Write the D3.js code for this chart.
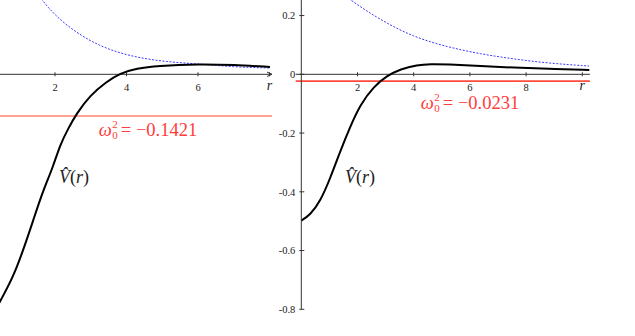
<!DOCTYPE html>
<html><head><meta charset="utf-8">
<script src="https://cdn.jsdelivr.net/npm/d3@7/dist/d3.min.js"></script>
<style>html,body{margin:0;padding:0;background:#fff;overflow:hidden}svg{display:block}
svg text{font-family:"Liberation Serif","DejaVu Serif",serif}</style>
</head><body>
<script>
// ---- data ----
const leftR      = [0.20, 0.462, 0.834, 1.113, 1.393, 1.673, 1.944, 2.140, 2.372, 2.607, 2.979, 3.446, 3.818, 4.285, 4.845, 6.056, 6.979, 8.014];
const leftV      = [-0.83, -0.774, -0.689, -0.598, -0.496, -0.394, -0.316, -0.240, -0.184, -0.133, -0.072, -0.025, 0.0034, 0.020, 0.029, 0.035, 0.032, 0.025];
const leftBlueR  = [1.30, 1.58, 2.336, 3.258, 4.18, 5.13, 6.06, 6.98, 8.01];
const leftBlueV  = [0.33, 0.253, 0.161, 0.093, 0.059, 0.042, 0.035, 0.025, 0.0214];
const rightR     = [0, 0.31, 0.67, 1.03, 1.38, 1.74, 2.1, 2.57, 3.05, 3.53, 4.12, 4.6, 5.19, 6.38, 7.57, 8.76, 10.25];
const rightV     = [-0.498, -0.479, -0.434, -0.354, -0.263, -0.178, -0.103, -0.042, -0.005, 0.018, 0.032, 0.035, 0.034, 0.028, 0.0225, 0.019, 0.0146];
const rightBlueR = [1.40, 1.74, 2.81, 3.99, 5.2, 6.38, 7.56, 8.77, 10.24];
const rightBlueV = [0.28, 0.253, 0.185, 0.127, 0.093, 0.069, 0.052, 0.038, 0.028];
const omegaLeft  = -0.1421;
const omegaRight = -0.0231;
const leftXTicks  = [2, 4, 6, 8];
const leftXLabels = ["2", "4", "6", "r"];
const rightXTicks  = [2, 4, 6, 8, 10];
const rightXLabels = ["2", "4", "6", "8", "r"];
const yTicks  = [0.2, 0, -0.2, -0.4, -0.6, -0.8];
const yLabels = ["0.2", "0", "-0.2", "-0.4", "-0.6", "-0.8"];

// ---- drawing ----
const W = 635, H = 336;
const svg = d3.select("body").append("svg").attr("width", W).attr("height", H);

const y = d3.scaleLinear().domain([0, -0.8]).range([74.3, 309.3]);
const xL = d3.scaleLinear().domain([0, 8]).range([-16.5, 269.5]);
const xR = d3.scaleLinear().domain([0, 10]).range([301.3, 582.3]);

function omegaLabel(g, cx, by, omega) {
  const col = "#ff3b3b";
  const grp = g.append("g");
  const w = grp.append("text").attr("x", 0).attr("y", by).attr("font-size", 18.5)
    .attr("font-style", "italic").attr("fill", col).text("ω");
  const ww = w.node().getComputedTextLength();
  grp.append("text").attr("x", ww + 0.5).attr("y", by - 8.5).attr("font-size", 11)
    .attr("fill", col).text("2");
  grp.append("text").attr("x", ww + 0.5).attr("y", by + 3).attr("font-size", 11)
    .attr("fill", col).text("0");
  const rest = grp.append("text").attr("x", ww + 9).attr("y", by).attr("font-size", 18.5)
    .attr("fill", col).text("= \u2212" + Math.abs(omega).toFixed(4));
  const total = ww + 9 + rest.node().getComputedTextLength();
  grp.attr("transform", `translate(${cx - total / 2},0)`);
}

function panel(x, rArr, vArr, bR, bV, omega, ticks, labels, axisEnd, arrow, redColor, omegaX, omegaY, vLabelX, lineMin) {
  const g = svg.append("g");
  g.append("line").attr("x1", x(lineMin)).attr("x2", x(axisEnd))
    .attr("y1", y(0)).attr("y2", y(0)).attr("stroke", "#333").attr("stroke-width", 1);
  if (arrow) {
    const ax = x(axisEnd), ay = y(0);
    g.append("path").attr("d", `M${ax-5},${ay-2.2}L${ax},${ay}L${ax-5},${ay+2.2}`)
      .attr("fill", "none").attr("stroke", "#333").attr("stroke-width", 1);
  }
  ticks.forEach((t, i) => {
    g.append("line").attr("x1", x(t)).attr("x2", x(t)).attr("y1", y(0) - 2).attr("y2", y(0) + 2)
      .attr("stroke", "#333").attr("stroke-width", 1);
    const isR = labels[i] === "r";
    g.append("text").attr("x", x(t)).attr("y", y(0) + (isR ? 16 : 16.8))
      .attr("text-anchor", "middle")
      .attr("font-size", isR ? 14 : 10.5).attr("font-style", isR ? "italic" : "normal")
      .attr("fill", "#222").text(labels[i]);
  });
  g.append("line").attr("x1", x(lineMin)).attr("x2", x(axisEnd))
    .attr("y1", y(omega)).attr("y2", y(omega)).attr("stroke", redColor).attr("stroke-width", 1.6);
  const line = d3.line().x(d => x(d[0])).y(d => y(d[1])).curve(d3.curveBasis);
  g.append("path").datum(d3.zip(bR, bV)).attr("d", line)
    .attr("fill", "none").attr("stroke", "#3a3aff").attr("stroke-width", 1)
    .attr("stroke-dasharray", "2,1.5");
  g.append("path").datum(d3.zip(rArr, vArr)).attr("d", line)
    .attr("fill", "none").attr("stroke", "#000").attr("stroke-width", 2);
  omegaLabel(g, omegaX, omegaY, omega);
  const v = g.append("text").attr("x", vLabelX).attr("y", 183)
    .attr("font-size", 18).attr("fill", "#222");
  v.append("tspan").attr("font-style", "italic").text("V\u0302");
  v.append("tspan").text("(");
  v.append("tspan").attr("font-style", "italic").text("r");
  v.append("tspan").text(")");
  return g;
}

panel(xL, leftR, leftV, leftBlueR, leftBlueV, omegaLeft, leftXTicks, leftXLabels, 8.07, true,
      "#ff8070", 148, 136, 59, xL.invert(0));
panel(xR, rightR, rightV, rightBlueR, rightBlueV, omegaRight, rightXTicks, rightXLabels, 10.27, false,
      "#ff4b3b", 470, 109, 345, -0.2);

const gy = svg.append("g");
gy.append("line").attr("x1", xR(0)).attr("x2", xR(0)).attr("y1", 0).attr("y2", y(-0.8))
  .attr("stroke", "#333").attr("stroke-width", 1);
yTicks.forEach((t, i) => {
  gy.append("line").attr("x1", xR(0) - 2).attr("x2", xR(0) + 3).attr("y1", y(t)).attr("y2", y(t))
    .attr("stroke", "#333").attr("stroke-width", 1);
  gy.append("text").attr("x", xR(0) - 6).attr("y", y(t) + 3.7).attr("text-anchor", "end")
    .attr("font-size", 10.5).attr("fill", "#222").text(yLabels[i]);
});
</script>
</body></html>
